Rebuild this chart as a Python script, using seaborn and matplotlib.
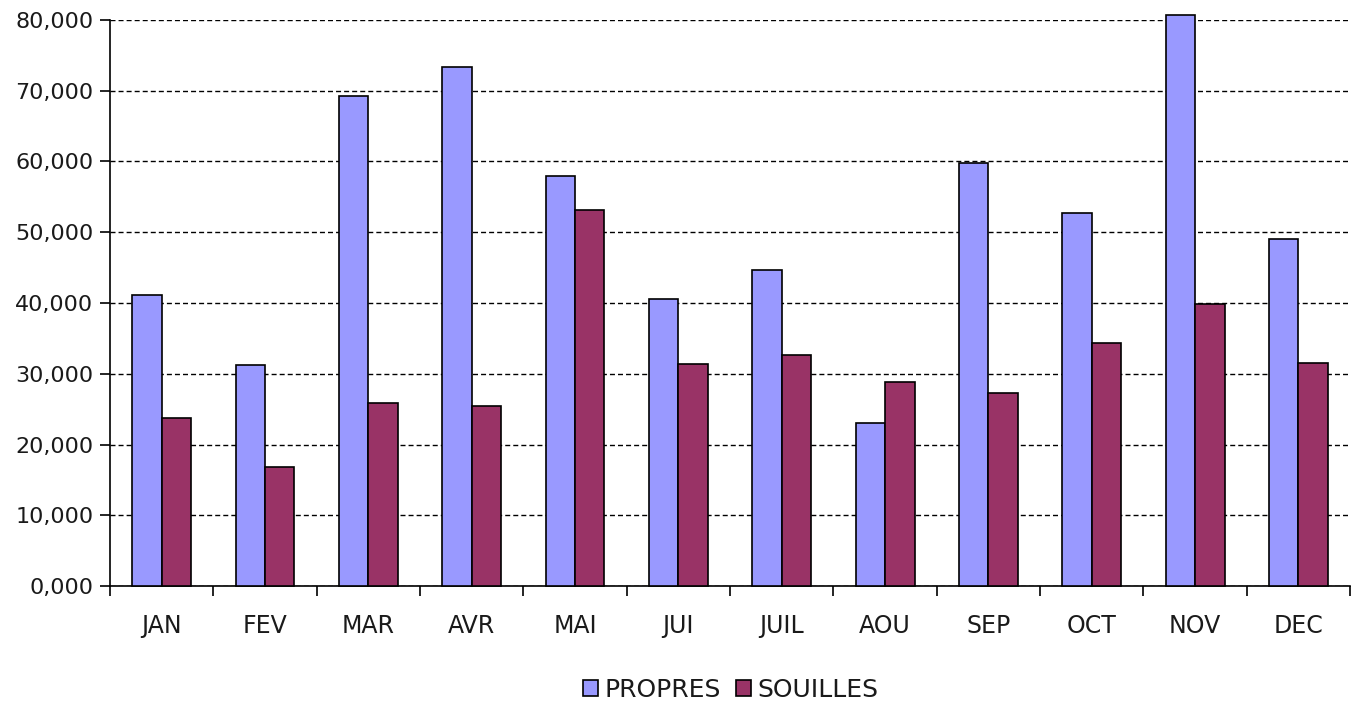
import pandas as pd
import matplotlib
matplotlib.use("Agg")
import matplotlib.pyplot as plt
import seaborn as sns
from matplotlib.ticker import FuncFormatter

# données
mois = ["JAN", "FEV", "MAR", "AVR", "MAI", "JUI", "JUIL", "AOU", "SEP", "OCT", "NOV", "DEC"]
propres = [41100, 31200, 69300, 73300, 58000, 40500, 44700, 23000, 59800, 52700, 80700, 49100]
souilles = [23800, 16800, 25800, 25500, 53200, 31400, 32600, 28900, 27300, 34300, 39800, 31500]
series = ["PROPRES", "SOUILLES"]
couleurs = ["#9999FF", "#993366"]

df = pd.DataFrame({
    "mois": mois * 2,
    "valeur": propres + souilles,
    "serie": [series[0]] * len(mois) + [series[1]] * len(mois),
})

sns.set_theme(style="white")
plt.rcParams['font.family'] = ['DejaVu Sans']

fig = plt.figure(figsize=(13.61, 7.04), dpi=100)
ax = fig.add_axes([0.0808, 0.1676, 0.9112, 0.804])

sns.barplot(data=df, x="mois", y="valeur", hue="serie", palette=couleurs, saturation=1,
            width=0.57, gap=0, edgecolor="black", linewidth=1.2,
            legend=False, ax=ax, zorder=3)
for p in ax.patches:
    p.set_clip_on(False)

ax.set_ylim(0, 80000)
ax.set_xlim(-0.5, len(mois) - 0.5)
ax.set_yticks(range(0, 80001, 10000))
ax.yaxis.set_major_formatter(FuncFormatter(lambda v, _: f"{int(v/1000)},000"))
ax.yaxis.grid(True, color="black", linestyle=(0, (3.6, 2.2)), linewidth=1.0, zorder=0)
ax.set_axisbelow(True)

# graduations entre les catégories
ax.set_xticks([i - 0.5 for i in range(len(mois) + 1)])
ax.set_xticklabels([])
ax.set_xticks(range(len(mois)), minor=True)
ax.set_xticklabels(mois, minor=True)
ax.tick_params(axis="x", which="major", length=7, width=1.2, color="black", direction="out", bottom=True)
ax.tick_params(axis="x", which="minor", length=0, pad=20, labelsize=17, labelcolor="#1a1a1a")
ax.tick_params(axis="y", length=7, width=1.2, color="black", direction="out", left=True,
               labelsize=16, labelcolor="#1a1a1a", pad=5)

ax.set_xlabel("")
ax.set_ylabel("")
for s in ["top", "right"]:
    ax.spines[s].set_visible(False)
for s in ["left", "bottom"]:
    ax.spines[s].set_color("black")
    ax.spines[s].set_linewidth(1.2)

handles = [plt.Rectangle((0, 0), 1, 1, facecolor=c, edgecolor="black", linewidth=1.2) for c in couleurs]
fig.legend(handles, series, loc="center", bbox_to_anchor=(0.537, 0.02), ncol=2, frameon=False,
           fontsize=18, handlelength=0.6, handleheight=0.6, handletextpad=0.25, columnspacing=0.6,
           labelcolor="#1a1a1a")

fig.savefig("out.png", dpi=100)
